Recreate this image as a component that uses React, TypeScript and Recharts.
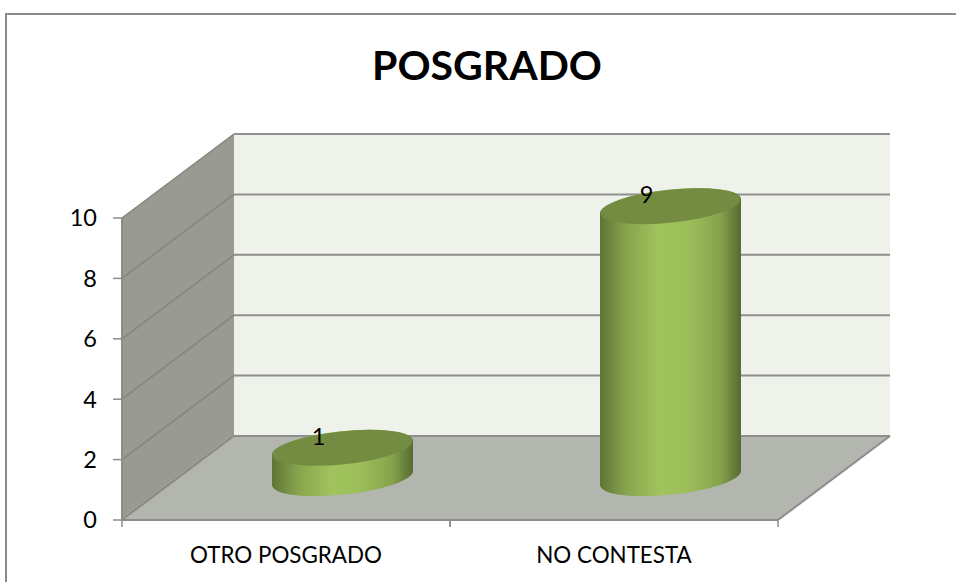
import { BarChart, Bar, XAxis, YAxis, CartesianGrid, LabelList } from 'recharts';

const categories = ['OTRO POSGRADO', 'NO CONTESTA'];
const values = [1, 9];
const yTicks = [0, 2, 4, 6, 8, 10];

const chartData = categories.map((name, i) => ({ name, value: values[i] }));

// 3D depth of the box
const DX = 112;
const DY = -84;
const FONT = 'Lato, "Open Sans", sans-serif';

// back wall, side wall and floor, hung on the grid's zero line so they sit under the grid
// eslint-disable-next-line @typescript-eslint/no-explicit-any
const wallShapes = (props: any) => {
    const { x1: l, x2: r, y1: b, y: t, key } = props;
    return (
        <g key={key}>
            <polygon points={`${l + DX},${t + DY} ${r + DX},${t + DY} ${r + DX},${b + DY} ${l + DX},${b + DY}`} fill="#eff2eb" />
            <polygon points={`${l},${t} ${l + DX},${t + DY} ${l + DX},${b + DY} ${l},${b}`} fill="#999b93" />
            <polygon points={`${l},${b} ${l + DX},${b + DY} ${r + DX},${b + DY} ${r},${b}`} fill="#b3b6ae" />
            <line x1={r} y1={b} x2={r + DX} y2={b + DY} stroke="#8c8c8c" strokeWidth={2} />
        </g>
    );
};

// eslint-disable-next-line @typescript-eslint/no-explicit-any
const gridLine = (props: any) => {
    const { x1, x2, y1, key } = props;
    return (
        <g key={key}>
            <line x1={x1} y1={y1} x2={x1 + DX} y2={y1 + DY} stroke="#84867e" strokeWidth={1.5} />
            <line x1={x1 + DX} y1={y1 + DY} x2={x2 + DX} y2={y1 + DY} stroke="#8e8e8e" strokeWidth={2} />
        </g>
    );
};

// eslint-disable-next-line @typescript-eslint/no-explicit-any
const Cylinder = (props: any) => {
    const { x, y, width, height } = props;
    const rx = width / 2;
    const ry = 16.5;
    const cx = x + rx + DX / 2;
    const top = y + DY / 2;
    const bottom = y + height + DY / 2;
    const tilt = 6;
    const lift = rx * Math.sin((tilt * Math.PI) / 180);
    const left = cx - rx;
    const right = cx + rx;
    const arc = `A${rx} ${ry} ${-tilt} 0 0`;
    return (
        <g>
            <path
                d={`M${left},${top + lift} L${left},${bottom + lift} ${arc} ${right},${bottom - lift} L${right},${top - lift} ${arc} ${left},${top + lift} Z`}
                fill="url(#cylinderSide)"
            />
            <ellipse cx={cx} cy={top} rx={rx} ry={ry} fill="#748c41" transform={`rotate(${-tilt} ${cx} ${top})`} />
        </g>
    );
};

// eslint-disable-next-line @typescript-eslint/no-explicit-any
const BarValue = (props: any) => {
    const { x, y, width, value } = props;
    return (
        <text x={x + width / 2 + DX / 2 - 24} y={y + DY / 2 - 3} fontFamily={FONT} fontSize={23.5} fill="#000" textAnchor="middle">
            {value}
        </text>
    );
};

// eslint-disable-next-line @typescript-eslint/no-explicit-any
const CategoryTick = (props: any) => {
    const { x, y, payload } = props;
    const half = 656 / categories.length / 2;
    return (
        <g>
            <line x1={x - half} y1={y - 8} x2={x - half} y2={y - 1} stroke="#8c8c8c" strokeWidth={1.5} />
            <line x1={x + half} y1={y - 8} x2={x + half} y2={y - 1} stroke="#8c8c8c" strokeWidth={1.5} />
            <text x={x} y={y + 35} fontFamily={FONT} fontSize={22.4} fill="#000" textAnchor="middle">
                {payload.value}
            </text>
        </g>
    );
};

export default function App() {
    return (
        <div style={{ position: 'absolute', left: 0, top: 0, width: 956, height: 582 }}>
            <BarChart
                width={956}
                height={582}
                data={chartData}
                margin={{ top: 218, right: 178, bottom: 0, left: 62 }}
            >
                <defs>
                    <linearGradient id="cylinderSide" x1="0" y1="0" x2="1" y2="0">
                        <stop offset="0%" stopColor="#5d7434" />
                        <stop offset="18%" stopColor="#86a34d" />
                        <stop offset="42%" stopColor="#a0c35c" />
                        <stop offset="62%" stopColor="#9dbf5a" />
                        <stop offset="85%" stopColor="#86a34d" />
                        <stop offset="100%" stopColor="#566b30" />
                    </linearGradient>
                </defs>
                <path d="M6,582 L6,14 L956,14" fill="none" stroke="#8c8c8c" strokeWidth={2} />
                <CartesianGrid horizontal={wallShapes} vertical={false} horizontalValues={[0]} />
                <CartesianGrid horizontal={gridLine} vertical={false} horizontalValues={yTicks} />
                <XAxis
                    dataKey="name"
                    height={62}
                    axisLine={{ stroke: '#8c8c8c', strokeWidth: 2 }}
                    tickLine={false}
                    tick={CategoryTick}
                    interval={0}
                />
                <YAxis
                    width={60}
                    domain={[0, 10]}
                    ticks={yTicks}
                    axisLine={{ stroke: '#8c8c8c', strokeWidth: 2 }}
                    tickLine={{ stroke: '#8c8c8c', strokeWidth: 1.5 }}
                    tickSize={9}
                    tickMargin={16}
                    tick={{ fontFamily: FONT, fontSize: 23.5, fill: '#000' }}
                />
                <Bar dataKey="value" barSize={141} shape={Cylinder} isAnimationActive={false}>
                    <LabelList dataKey="value" content={BarValue} />
                </Bar>
                <text x={487} y={80} fontFamily={FONT} fontSize={41} fontWeight={700} fill="#000" textAnchor="middle">
                    POSGRADO
                </text>
            </BarChart>
        </div>
    );
}
